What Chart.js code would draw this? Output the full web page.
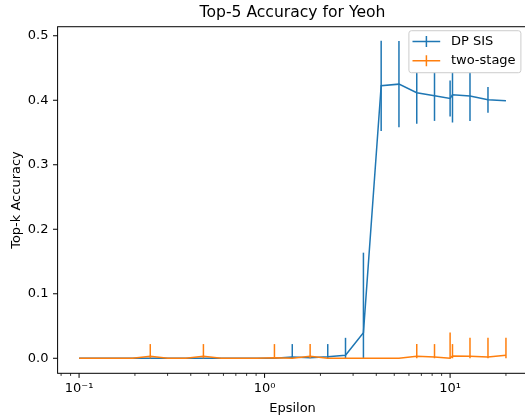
<!DOCTYPE html>
<html>
<head>
<meta charset="utf-8">
<script src="https://cdn.jsdelivr.net/npm/chart.js@4.4.1/dist/chart.umd.min.js"></script>
<style>
  html, body { margin: 0; padding: 0; background: #fff; overflow: hidden; }
  #wrap { width: 530px; height: 418px; }
</style>
</head>
<body>
<div id="wrap"><canvas id="accChart" width="530" height="418"></canvas></div>
<script>
// Epsilon values (x axis, log scale)
const epsilons = [0.1, 0.125, 0.155, 0.194, 0.242, 0.301, 0.376, 0.468, 0.584, 0.728, 0.908, 1.13, 1.41,
                  1.76, 2.19, 2.73, 3.41, 4.25, 5.30, 6.61, 8.24, 10.0, 10.3, 12.8, 16.0, 20.0];

// DP SIS: mean top-5 accuracy and error
const dpSis    = [0, 0, 0, 0, 0, 0, 0, 0, 0, 0, 0, 0, 0.002,
                  0.001, 0.0025, 0.0047, 0.0397, 0.4224, 0.425, 0.4116, 0.407, 0.4027, 0.4085, 0.4065, 0.4007, 0.3992];
const dpSisErr = [0, 0, 0, 0, 0, 0, 0, 0, 0, 0, 0, 0, 0.020,
                  0, 0.0195, 0.027, 0.124, 0.070, 0.067, 0.048, 0.039, 0.028, 0.043, 0.0385, 0.020, 0];

// two-stage: mean top-5 accuracy and error
const twoStage    = [0, 0, 0, 0, 0.003, 0, 0, 0.003, 0, 0, 0, 0.001, 0,
                     0.003, 0, 0, 0, 0, 0, 0.003, 0.002, 0, 0.0035, 0.003, 0.002, 0.0047];
const twoStageErr = [0, 0, 0, 0, 0.019, 0, 0, 0.019, 0, 0, 0, 0.021, 0,
                     0.019, 0, 0, 0, 0, 0, 0.019, 0.020, 0.040, 0.0185, 0.029, 0.030, 0.027];

// ticks
const yTicks = [0, 0.1, 0.2, 0.3, 0.4, 0.5];
const xMajorTicks = [0.1, 1, 10];
const xMajorLabels = ['10\u207B\u00B9', '10\u2070', '10\u00B9'];
const xMinorTicks = [0.08, 0.09, 0.2, 0.3, 0.4, 0.5, 0.6, 0.7, 0.8, 0.9,
                     2, 3, 4, 5, 6, 7, 8, 9, 20];

const BLUE = '#1f77b4';
const ORANGE = '#ff7f0e';
const FONT = 'DejaVu Sans';

function toPoints(xs, ys) {
    return xs.map((x, i) => ({ x: x, y: ys[i] }));
}

// error bars drawn right after each line so orange stays on top
const errorBars = {
    id: 'errorBars',
    afterDatasetDraw(chart, args) {
        const ds = chart.data.datasets[args.index];
        const xs = chart.scales.x, ys = chart.scales.y;
        const ctx = chart.ctx;
        ctx.save();
        ctx.strokeStyle = ds.borderColor;
        ctx.lineWidth = 1.5;
        ds.errors.forEach((e, i) => {
            if (!e) return;
            const v = ds.data[i].y;
            const px = xs.getPixelForValue(epsilons[i]);
            ctx.beginPath();
            ctx.moveTo(px, ys.getPixelForValue(Math.max(0, v - e)));
            ctx.lineTo(px, ys.getPixelForValue(v + e));
            ctx.stroke();
        });
        ctx.restore();
    }
};

// frame, tick marks and legend in matplotlib style
const frameAndLegend = {
    id: 'frameAndLegend',
    afterDraw(chart) {
        const ctx = chart.ctx;
        const area = chart.chartArea;
        const xs = chart.scales.x, ys = chart.scales.y;
        ctx.save();
        ctx.strokeStyle = '#000';
        ctx.lineWidth = 1;
        ctx.strokeRect(area.left, area.top, area.right - area.left, area.bottom - area.top);

        // tick marks
        const tick = (x1, y1, x2, y2, w) => {
            ctx.lineWidth = w;
            ctx.beginPath();
            ctx.moveTo(x1, y1);
            ctx.lineTo(x2, y2);
            ctx.stroke();
        };
        xMajorTicks.forEach(v => {
            const px = xs.getPixelForValue(v);
            tick(px, area.bottom, px, area.bottom + 4.6, 1);
        });
        xMinorTicks.forEach(v => {
            const px = xs.getPixelForValue(v);
            if (px < area.left || px > area.right) return;
            tick(px, area.bottom, px, area.bottom + 2.6, 0.8);
        });
        yTicks.forEach(v => {
            const py = ys.getPixelForValue(v);
            tick(area.left - 4.6, py, area.left, py, 1);
        });

        // legend box
        const w = 112, h = 42;
        const lx = area.right - 6.5 - w, ly = area.top + 4;
        ctx.beginPath();
        ctx.roundRect(lx, ly, w, h, 2.5);
        ctx.fillStyle = '#fff';
        ctx.fill();
        ctx.strokeStyle = '#cccccc';
        ctx.lineWidth = 1;
        ctx.stroke();

        ctx.font = '13px "' + FONT + '"';
        ctx.textBaseline = 'middle';
        chart.data.datasets.forEach((ds, i) => {
            const cy = ly + 10.7 + i * 19.3;
            ctx.strokeStyle = ds.borderColor;
            ctx.lineWidth = 1.5;
            ctx.beginPath();
            ctx.moveTo(lx + 3.6, cy);
            ctx.lineTo(lx + 31.3, cy);
            ctx.moveTo(lx + 17.5, cy - 5.5);
            ctx.lineTo(lx + 17.5, cy + 5.5);
            ctx.stroke();
            ctx.fillStyle = '#000';
            ctx.fillText(ds.label, lx + 42, cy);
        });
        ctx.restore();
    }
};

const ctx = document.getElementById('accChart').getContext('2d');
const accChart = new Chart(ctx, {
    type: 'line',
    data: {
        datasets: [{
            label: 'DP SIS',
            data: toPoints(epsilons, dpSis),
            errors: dpSisErr,
            borderColor: BLUE,
            backgroundColor: BLUE,
            borderWidth: 1.5,
            pointRadius: 0,
            tension: 0,
            order: 1
        }, {
            label: 'two-stage',
            data: toPoints(epsilons, twoStage),
            errors: twoStageErr,
            borderColor: ORANGE,
            backgroundColor: ORANGE,
            borderWidth: 1.5,
            pointRadius: 0,
            tension: 0,
            order: 0
        }]
    },
    options: {
        responsive: false,
        animation: false,
        devicePixelRatio: 1,
        layout: { padding: { left: 0, right: 2.6, top: 0, bottom: 0 } },
        plugins: {
            legend: { display: false },
            tooltip: { enabled: false },
            title: {
                display: true,
                text: 'Top-5 Accuracy for Yeoh',
                fullSize: false,
                color: '#000',
                font: { family: FONT, size: 15.6, weight: 'normal' },
                padding: { top: 4, bottom: 4 }
            }
        },
        scales: {
            x: {
                type: 'logarithmic',
                min: 0.0766,
                max: 26.1,
                afterFit: (scale) => { scale.height = 44.7; },
                afterBuildTicks: (scale) => {
                    scale.ticks = xMajorTicks.map(v => ({ value: v, major: true }));
                },
                ticks: {
                    autoSkip: false,
                    maxRotation: 0,
                    padding: 3,
                    color: '#000',
                    font: { family: FONT, size: 13 },
                    callback: (value) => {
                        const i = xMajorTicks.indexOf(value);
                        return i >= 0 ? xMajorLabels[i] : '';
                    }
                },
                grid: { display: false, drawTicks: true, tickLength: 4.6 },
                border: { display: false },
                title: {
                    display: true,
                    text: 'Epsilon',
                    color: '#000',
                    font: { family: FONT, size: 13 },
                    padding: { top: 0, bottom: 2 }
                }
            },
            y: {
                type: 'linear',
                min: -0.0233,
                max: 0.514,
                afterFit: (scale) => { scale.width = 57.6; },
                afterBuildTicks: (scale) => {
                    scale.ticks = yTicks.map(v => ({ value: v }));
                },
                ticks: {
                    padding: 4.6,
                    color: '#000',
                    font: { family: FONT, size: 13 },
                    callback: (value) => value.toFixed(1)
                },
                grid: { display: false, drawTicks: true, tickLength: 4.6 },
                border: { display: false },
                title: {
                    display: true,
                    text: 'Top-k Accuracy',
                    color: '#000',
                    font: { family: FONT, size: 13 },
                    padding: { top: 9, bottom: 0 }
                }
            }
        }
    },
    plugins: [errorBars, frameAndLegend]
});
</script>
</body>
</html>
